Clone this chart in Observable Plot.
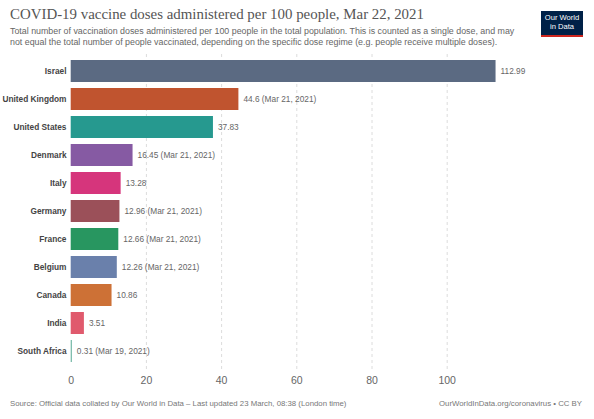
<!DOCTYPE html>
<html>
<head>
<meta charset="utf-8">
<script src="https://cdn.jsdelivr.net/npm/d3@7"></script>
<script src="https://cdn.jsdelivr.net/npm/@observablehq/plot@0.6"></script>
<style>
  body { margin: 0; background: #fff; font-family: "Liberation Sans", Arial, sans-serif; }
  #wrap { position: relative; width: 594px; height: 419px; overflow: hidden; }
  #title { position: absolute; left: 10px; top: 6px; font-family: "Liberation Serif", "Times New Roman", serif; font-size: 14.9px; color: #555; white-space: nowrap; }
  #subtitle { position: absolute; left: 10px; top: 26px; width: 512px; font-size: 8.85px; line-height: 11px; color: #666; }
  #logo { position: absolute; left: 541px; top: 11px; width: 42px; height: 22px; background: #002147; border-bottom: 2.5px solid #ce261e; color: #fff; font-size: 7.6px; line-height: 9px; text-align: center; padding-top: 2px; box-sizing: content-box; }
  #chart { position: absolute; left: 0; top: 52px; }
  #src { position: absolute; left: 10px; top: 399px; font-size: 7.8px; color: #777; white-space: nowrap; }
  #lic { position: absolute; right: 12px; top: 399px; font-size: 7.8px; color: #777; white-space: nowrap; }
</style>
</head>
<body>
<div id="wrap">
  <div id="title">COVID-19 vaccine doses administered per 100 people, Mar 22, 2021</div>
  <div id="subtitle">Total number of vaccination doses administered per 100 people in the total population. This is counted as a single dose, and may not equal the total number of people vaccinated, depending on the specific dose regime (e.g. people receive multiple doses).</div>
  <div id="logo">Our World<br>in Data</div>
  <div id="chart"></div>
  <div id="src">Source: Official data collated by Our World in Data – Last updated 23 March, 08:38 (London time)</div>
  <div id="lic">OurWorldInData.org/coronavirus • CC BY</div>
</div>
<script>
const countries = ["Israel", "United Kingdom", "United States", "Denmark", "Italy", "Germany", "France", "Belgium", "Canada", "India", "South Africa"];
const values = [112.99, 44.6, 37.83, 16.45, 13.28, 12.96, 12.66, 12.26, 10.86, 3.51, 0.31];
const dates = ["", "Mar 21, 2021", "", "Mar 21, 2021", "", "Mar 21, 2021", "Mar 21, 2021", "Mar 21, 2021", "", "", "Mar 19, 2021"];
const colors = ["#5b6a82", "#c0542f", "#26998f", "#865aa3", "#d6357c", "#9b5059", "#289660", "#6a80ab", "#cd7136", "#e05a6d", "#6fb5a3"];
const xTicks = [0, 20, 40, 60, 80, 100];

const data = countries.map((c, i) => ({
  country: c,
  value: values[i],
  color: colors[i],
  label: String(values[i]) + (dates[i] ? ` (${dates[i]})` : "")
}));

const chart = Plot.plot({
  width: 594,
  height: 345,
  marginTop: 2,
  marginBottom: 28,
  marginLeft: 70,
  marginRight: 0,
  style: { fontFamily: "'Liberation Sans', Arial, sans-serif", background: "transparent" },
  x: { domain: [0, 100], range: [70.7, 446.7] },
  y: { domain: countries, padding: 0.214 },
  color: { type: "identity" },
  marks: [
    Plot.ruleX(xTicks.slice(1), { stroke: "#dcdcdc", strokeDasharray: "3,3" }),
    Plot.barX(data, { x: "value", y: "country", fill: "color" }),
    Plot.text(data, { x: "value", y: "country", text: "label", dx: 4.5, textAnchor: "start", fill: "#666", fontSize: 8.3 }),
    Plot.axisY({ tickSize: 0, tickPadding: 4, fontWeight: "bold", fontSize: 8.3, fill: "#444", label: null }),
    Plot.axisX({ ticks: xTicks, tickSize: 0, tickPadding: 7, fontSize: 10.5, fill: "#666", label: null })
  ]
});
document.getElementById("chart").appendChild(chart);
</script>
</body>
</html>
